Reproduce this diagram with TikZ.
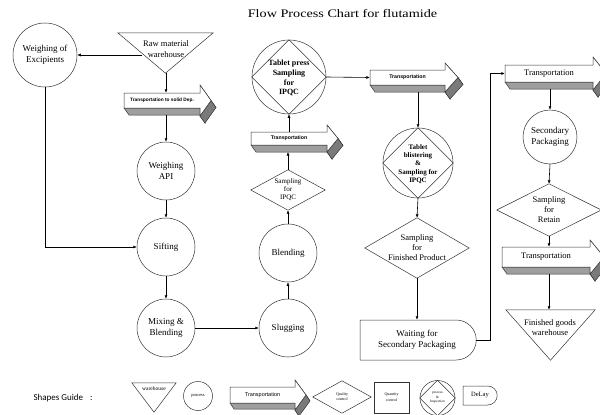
\documentclass[tikz,border=0pt]{standalone}
\usepackage{fontspec}
\setmainfont{Liberation Serif}
\newfontfamily\sansA{Liberation Sans}
\newfontfamily\calib{Carlito}
\usetikzlibrary{arrows.meta,shapes.misc,calc}

\tikzset{
  conn/.style={draw=black, line width=0.6pt, -{Latex[length=3.5pt,width=3pt]}},
  shp/.style={draw=black!80, line width=0.5pt},
  proc/.style={circle, draw=black!80, line width=0.5pt, inner sep=0pt, align=center,
               font=\fontsize{9}{10.7}\selectfont},
  box/.style={rectangle, inner sep=0pt, align=center},
}
\def\tdx{5}\def\tdy{7}
% #1 name, #2 x0, #3 y0, #4 x1, #5 y1, #6 tip x, #7 head extra, #8 text
\newcommand\transp[8]{%
  \pgfmathsetmacro\trYm{(#3+#5)/2}%
  \pgfmathsetmacro\trHt{#3-#7}%
  \pgfmathsetmacro\trHb{#5+#7}%
  \pgfmathsetmacro\trW{#4-#2}%
  \pgfmathsetmacro\trH{#5-#3}%
  \pgfmathsetmacro\trX{(#2+#4)/2}%
  \path[shp, fill=black!38] (#2,#5) -- (#4,#5) -- (#4,\trHb) -- ++(\tdx,\tdy)
     -- ({#4+\tdx},{#5+\tdy}) -- ({#2+\tdx},{#5+\tdy}) -- cycle;
  \path[shp, fill=black!62] (#4,\trHt) -- (#6,\trYm) -- ++(\tdx,\tdy)
     -- ({#4+\tdx},{\trHt+\tdy}) -- cycle;
  \path[shp, fill=black!52] (#6,\trYm) -- (#4,\trHb) -- ++(\tdx,\tdy)
     -- ({#6+\tdx},{\trYm+\tdy}) -- cycle;
  \path[shp, fill=white] (#2,#3) -- (#4,#3) -- (#4,\trHt) -- (#6,\trYm)
     -- (#4,\trHb) -- (#4,#5) -- (#2,#5) -- cycle;
  \node[box, minimum width=\trW pt, minimum height=\trH pt] (#1) at (\trX,\trYm) {#8};
}

\begin{document}
\begin{tikzpicture}[x=1pt,y=-1pt]
\useasboundingbox (0,0) rectangle (600,415);
\clip (0,0) rectangle (600,415);

% title
\node[font=\fontsize{11.5}{13}\selectfont] (title) at (342.5,14) {\scalebox{1.235}[1]{Flow Process Chart for flutamide}};

% ---------- left column ----------
\node[proc, minimum size=64pt] (wex) at (45,55) {Weighing of\\Excipients};

\node[box, minimum width=95pt, minimum height=40pt] (rawbox) at (165.5,53) {};
\draw[shp] (rawbox.north west) -- (rawbox.north east) -- (rawbox.south) -- cycle;
\node[box, font=\fontsize{8.5}{10.5}\selectfont] (raw) at (166,49) {Raw material\\warehouse};
\coordinate (rawL) at (142,55);
\coordinate (rawtip) at (166,73);

\transp{tsd}{124}{93}{200}{108}{211}{8}{\sansA\bfseries\fontsize{4.8}{5}\selectfont Transportation to solid Dep.}
\coordinate (tsdb) at (166,115);

\node[proc, minimum size=58pt] (wapi) at (166,171) {Weighing\\API};
\node[proc, minimum size=58pt] (sift) at (166,247) {Sifting};
\node[proc, minimum size=58pt] (mix) at (166,328) {Mixing \&\\Blending};

% ---------- second column ----------
\node[proc, minimum size=58pt] (slug) at (288,328) {Slugging};
\node[proc, minimum size=58pt] (blend) at (288,253) {Blending};

\node[box, minimum width=74pt, minimum height=40pt, font=\fontsize{7}{8}\selectfont] (ipqc) at (288,190) {Sampling\\for\\IPQC};
\draw[shp] (ipqc.west) -- (ipqc.north) -- (ipqc.east) -- (ipqc.south) -- cycle;

\transp{tsm}{251}{132}{327}{145}{338}{7}{\sansA\bfseries\fontsize{5.2}{6}\selectfont Transportation}
\coordinate (tsmb) at (288,152);

\node[circle, shp, minimum size=74pt, inner sep=0pt] (tp) at (289,77) {};
\draw[shp] (tp.west) -- (tp.north) -- (tp.east) -- (tp.south) -- cycle;
\node[box, font=\bfseries\fontsize{8}{9.8}\selectfont] (tptext) at (289,78) {Tablet press\\Sampling\\for\\IPQC};

% ---------- third column ----------
\transp{tmid}{370}{70}{445}{85}{458}{7}{\sansA\bfseries\fontsize{5.2}{6}\selectfont Transportation}
\coordinate (tmidb) at (418,92);

\node[circle, shp, minimum size=70pt, inner sep=0pt] (blis) at (418,163) {};
\draw[shp] (blis.west) -- (blis.north) -- (blis.east) -- (blis.south) -- cycle;
\node[box, font=\bfseries\fontsize{7}{8.3}\selectfont] (blistext) at (418,164) {Tablet\\blistering\\\&\\Sampling for\\IPQC};

\node[box, minimum width=104pt, minimum height=60pt, font=\fontsize{8.5}{10}\selectfont] (sfp) at (417,248) {Sampling\\for\\Finished Product};
\draw[shp] (sfp.west) -- (sfp.north) -- (sfp.east) -- (sfp.south) -- cycle;

\node[shp, rounded rectangle, rounded rectangle left arc=none, minimum width=116pt,
      minimum height=40pt, inner sep=0pt, align=center, font=\fontsize{9}{11}\selectfont] (wait) at (417,340) {Waiting for\\Secondary Packaging};

% ---------- right column ----------
\transp{tr1}{505}{65}{593}{82}{606}{8}{\fontsize{8.5}{10}\selectfont Transportation}
\coordinate (tr1b) at (550,89);

\node[proc, minimum size=54pt] (sec) at (550,137) {Secondary\\Packaging};

\node[box, minimum width=104pt, minimum height=52pt, font=\fontsize{8.5}{10}\selectfont] (ret) at (549,210) {Sampling\\for\\Retain};
\draw[shp] (ret.west) -- (ret.north) -- (ret.east) -- (ret.south) -- cycle;

\transp{tr2}{502}{247}{590}{267}{604}{7}{\fontsize{8.5}{10}\selectfont Transportation}
\coordinate (tr2b) at (549,274);

\node[box, minimum width=89pt, minimum height=50pt] (fgwbox) at (550.5,335) {};
\draw[shp] (fgwbox.north west) -- (fgwbox.north east) -- (fgwbox.south) -- cycle;
\node[box, font=\fontsize{8.5}{10}\selectfont] (fgw) at (550,328) {Finished goods\\warehouse};

% ---------- connectors ----------
\draw[conn] (rawL) -- (wex.east);
\draw[conn] (rawtip) -- (rawtip |- tsd.north);
\draw[conn] (tsdb) -- (wapi.north);
\draw[conn] (wapi.south) -- (sift.north);
\draw[conn] (sift.south) -- (mix.north);
\draw[conn] (wex.south) |- (sift.west);
\draw[conn] (mix.east) -- (slug.west);
\draw[conn] (slug.north) -- (blend.south);
\draw[conn] (blend.north) -- (ipqc.south);
\draw[conn] (ipqc.north) -- (tsmb);
\draw[conn] (tsm.north) -- (tp.south);
\draw[conn] (tp.east) -- (tmid.west);
\draw[conn] (tmidb) -- (blis.north);
\draw[conn] (blis.south) -- (sfp.north);
\draw[conn] (sfp.south) -- (sfp.south |- wait.north);
\draw[conn] (wait.east) -- ++(14,0) |- (tr1.west);
\draw[conn] (tr1b) -- (sec.north);
\draw[conn] (sec.south) -- (ret.north);
\draw[conn] (ret.south) -- (ret.south |- tr2.north);
\draw[conn] (tr2b) -- (tr2b |- fgwbox.north);

% ---------- shapes guide ----------
\node[anchor=west, font=\calib\fontsize{9}{10}\selectfont] (guide) at (30,398) {Shapes Guide\hspace{7pt}:};

\node[box, minimum width=44pt, minimum height=29pt] (gwhbox) at (154,397.5) {};
\draw[shp] (gwhbox.north west) -- (gwhbox.north east) -- (gwhbox.south) -- cycle;
\node[box, font=\fontsize{5.5}{6}\selectfont] (gwh) at (154,389) {warehouse};

\node[proc, minimum size=29pt, font=\fontsize{4.5}{5}\selectfont] (gproc) at (198,396) {process};

\def\tdx{4}\def\tdy{6}
\transp{gtr}{230}{387}{295}{403}{306}{7}{\sansA\fontsize{5.5}{6}\selectfont Transportation}

\node[box, minimum width=58pt, minimum height=32pt, font=\fontsize{4}{5}\selectfont] (gqc) at (342,397) {Quality\\control};
\draw[shp] (gqc.west) -- (gqc.north) -- (gqc.east) -- (gqc.south) -- cycle;

\node[shp, rectangle, minimum width=35pt, minimum height=31pt, inner sep=0pt, align=center,
      font=\fontsize{4}{6}\selectfont] (gqn) at (391.5,397.5) {Quantity\\control};

\node[circle, shp, minimum size=35pt, inner sep=0pt] (gpi) at (437.5,398) {};
\draw[shp] (gpi.west) -- (gpi.north) -- (gpi.east) -- (gpi.south) -- cycle;
\node[box, font=\fontsize{3.5}{4.5}\selectfont] (gpitext) at (437.5,398) {process\\\&\\Inspection};

\node[shp, rounded rectangle, rounded rectangle left arc=none, minimum width=34pt,
      minimum height=19pt, inner sep=0pt, font=\fontsize{6.5}{7}\selectfont] (gdl) at (480,395.5) {DeLay};
\end{tikzpicture}
\end{document}
